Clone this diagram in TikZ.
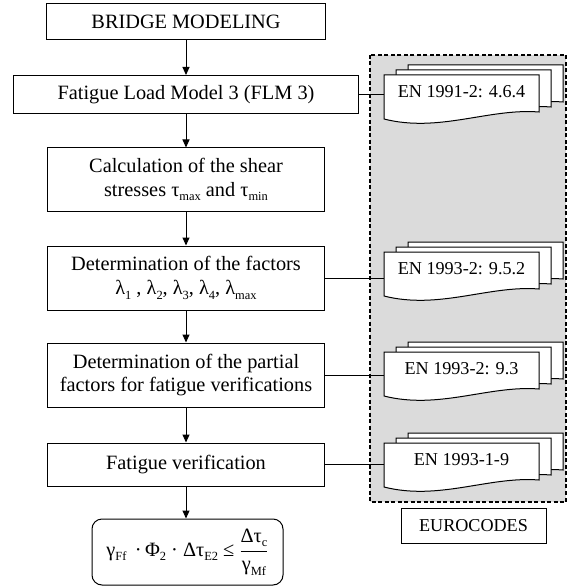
\documentclass[tikz,border=0pt]{standalone}
\usepackage{fontspec}
\setmainfont{Liberation Serif}
\usetikzlibrary{arrows.meta}
\definecolor{codegray}{RGB}{219,219,219}
\newcommand\sbs[1]{\raisebox{-0.22em}{\fontsize{12.5}{13}\selectfont #1}}
\tikzset{
  flowbox/.style={draw, line width=1bp, fill=white, inner sep=0pt, align=center,
    font=\fontsize{20.4}{24}\selectfont},
  docline/.style={draw, line width=1bp, fill=white},
  doctext/.style={inner sep=0pt, font=\fontsize{18.2}{21}\selectfont},
  conn/.style={line width=1bp},
  flowarrow/.style={line width=1bp, -{Triangle[length=8bp,width=7bp]}},
}
\newcommand\docstack[4]{%
  \foreach \dx/\dy in {24/-10, 12/-5, 0/0} {
    \draw[docline] (#2+\dx,#3+\dy) -- (#2+\dx+155,#3+\dy) -- (#2+\dx+155,#3+\dy+37)
      .. controls (#2+\dx+105,#3+\dy+33) and (#2+\dx+55,#3+\dy+58) .. (#2+\dx,#3+\dy+44) -- cycle;
  }
  \node[doctext] (#1) at (#2+77.5,#3+17) {#4};
  \coordinate (#1w) at (#2,#3+17);
}
\begin{document}
\begin{tikzpicture}[x=1bp, y=-1bp]
\useasboundingbox (0,0) rectangle (569,587);
% Eurocodes region
\draw[fill=codegray, line width=1.5bp, dash pattern=on 4bp off 2.5bp] (370,55) rectangle (566,502);
\node[draw, line width=1bp, inner sep=0pt, minimum width=145bp, minimum height=35bp,
  font=\fontsize{18.2}{21}\selectfont] (euro) at (473.5,525.5) {EUROCODES};
% document stacks
\docstack{d1}{384}{75}{EN 1991-2: 4.6.4}
\docstack{d2}{384}{252}{EN 1993-2: 9.5.2}
\docstack{d3}{384}{352}{EN 1993-2: 9.3}
\docstack{d4}{384}{443}{EN 1993-1-9}
% flow boxes
\node[flowbox, minimum width=278bp, minimum height=36bp] (b1) at (186,22) {BRIDGE MODELING};
\node[flowbox, minimum width=345bp, minimum height=38bp] (b2) at (186,94.5) {Fatigue Load Model 3 (FLM 3)};
\node[flowbox, minimum width=276bp, minimum height=63bp] (b3) at (186,179.5)
  {Calculation of the shear\\stresses τ\sbs{max} and τ\sbs{min}};
\node[flowbox, minimum width=276bp, minimum height=64bp] (b4) at (186,278)
  {Determination of the factors\\λ\sbs{1} , λ\sbs{2}, λ\sbs{3}, λ\sbs{4}, λ\sbs{max}};
\node[flowbox, minimum width=276bp, minimum height=64bp] (b5) at (186,375)
  {Determination of the partial\\factors for fatigue verifications};
\node[flowbox, minimum width=276bp, minimum height=43bp] (b6) at (186,464.5) {Fatigue verification};
\node[flowbox, rounded corners=10bp, minimum width=191bp, minimum height=66bp] (b7) at (187.5,552)
  {γ\sbs{Ff} \,·\,Φ\sbs{2} · Δτ\sbs{E2} ≤ $\displaystyle\frac{\mbox{Δτ\sbs{c}}}{\mbox{γ\sbs{Mf}}}$};
% arrows
\draw[flowarrow] (b1.south) -- (b1.south |- b2.north);
\draw[flowarrow] (b2.south) -- (b2.south |- b3.north);
\draw[flowarrow] (b3.south) -- (b3.south |- b4.north);
\draw[flowarrow] (b4.south) -- (b4.south |- b5.north);
\draw[flowarrow] (b5.south) -- (b5.south |- b6.north);
\draw[flowarrow] (b6.south) -- (b6.south |- b7.north);
% connectors to codes
\draw[conn] (b2.east) -- (b2.east -| d1w);
\draw[conn] (b4.east) -- (b4.east -| d2w);
\draw[conn] (b5.east) -- (b5.east -| d3w);
\draw[conn] (b6.east) -- (b6.east -| d4w);
\end{tikzpicture}
\end{document}
